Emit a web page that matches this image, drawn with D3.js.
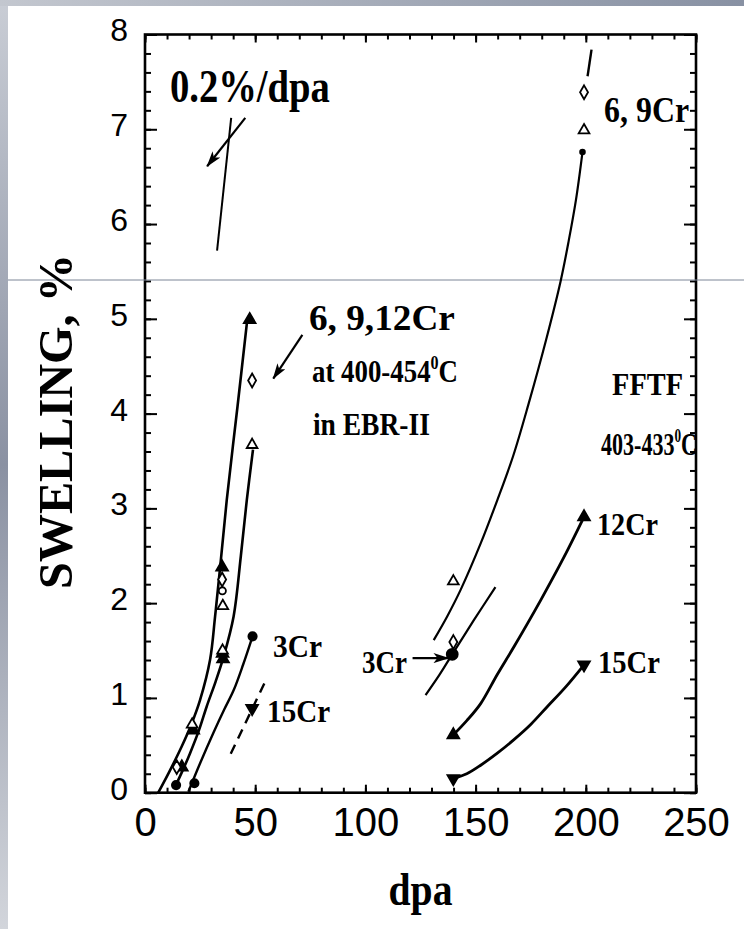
<!DOCTYPE html>
<html>
<head>
<meta charset="utf-8">
<script src="https://cdn.jsdelivr.net/npm/d3@7"></script>
<style>
  body { margin: 0; background: #fff; }
  svg { display: block; }
  .xlab text { font-family: "Liberation Sans Narrow", "Arial Narrow", "Liberation Sans", sans-serif; font-size: 40px; fill: #000; }
  .ylab text { font-family: "Liberation Sans", Arial, sans-serif; font-size: 32px; fill: #000; }
  .note { font-family: "Liberation Serif", "Times New Roman", serif; font-weight: bold; fill: #000; }
</style>
</head>
<body>
<svg id="chart" width="744" height="929"></svg>
<script>
// ---- data: dpa vs swelling % ----
const xTickValues = [0, 50, 100, 150, 200, 250];
const yTickValues = [0, 1, 2, 3, 4, 5, 6, 7, 8];

const slopeGuide = [[32.7, 5.72], [39.1, 7.12]];

// EBR-II, 400-454 C
const ebrUpper = [[6, 0], [11, 0.22], [16.7, 0.49], [21, 0.72], [25, 0.98], [29.5, 1.4], [31.8, 1.86], [34.1, 2.38], [37.1, 3.09], [42, 4.08], [46.2, 4.95]];
const ebrMiddle = [[13.6, 0.06], [17, 0.23], [20.5, 0.42], [24.5, 0.66], [28, 0.91], [32, 1.17], [35.6, 1.43], [40.2, 1.86], [43.5, 2.5], [46.2, 3.09], [49, 3.62]];
const ebr3Cr = [[19.7, 0.01], [25, 0.31], [31, 0.63], [36, 0.88], [40.2, 1.08], [44.5, 1.35], [48.8, 1.65]];
const ebr15Cr = [[38.9, 0.41], [55.3, 1.21]];

const ebrFilledTri = [[47.5, 4.99], [35, 2.38], [35.2, 1.47], [35.4, 1.41], [21.9, 0.66], [16.7, 0.27]];
const ebrOpenTri = [[48.6, 3.67], [35.3, 1.97], [35.2, 1.5], [21.4, 0.72]];
const ebrDiamond = [[48.6, 4.35], [35, 2.25], [14.4, 0.27]];
const ebrOpenCircle = [[35.1, 2.13]];
const ebrDot = [[48.8, 1.65], [14.1, 0.08], [22.4, 0.1]];
const ebrDownTri = [[48.6, 0.89]];

// FFTF, 403-433 C
const fftf69Cr = [[131, 1.61], [137.1, 1.86], [143.2, 2.14], [152.3, 2.63], [159.9, 3.09], [167, 3.55], [174, 4.1], [182, 4.78], [188.6, 5.4], [192.3, 5.83], [195.5, 6.25], [198.5, 6.76]];
const fftf69CrTop = [[200.8, 7.56], [202.6, 7.84]];
const fftf3Cr = [[127.3, 1.03], [133.5, 1.24], [139.4, 1.46], [149.2, 1.82], [159, 2.17]];
const fftf12Cr = [[139.9, 0.61], [146, 0.76], [152.3, 0.94], [159.9, 1.25], [167.4, 1.54], [179.5, 2.03], [190.2, 2.49], [199.2, 2.91]];
const fftf15Cr = [[139.9, 0.15], [146, 0.2], [152.3, 0.29], [160, 0.42], [167.4, 0.56], [175, 0.72], [182.6, 0.91], [191, 1.12], [199.2, 1.35]];

const fftfOpenTri = [[199.2, 6.99], [139.9, 2.23]];
const fftfDiamond = [[199.2, 7.39], [139.9, 1.59]];
const fftfDot = [[139.4, 1.46]];
const fftfFilledTri = [[199.2, 2.91], [139.9, 0.61]];
const fftfDownTri = [[199.2, 1.35], [139.9, 0.15]];
const fftfEndDot = [[198.5, 6.76]];

// annotations (anchored in data units)
const notes = [
  {text: "0.2%/dpa", at: [11.3, 7.29], size: 46, width: 160},
  {text: "6, 9Cr", at: [208.3, 7.08], size: 36, width: 85},
  {text: "6,  9,12Cr", at: [74.4, 4.88], size: 36, width: 146},
  {text: "at 400-454", sup: "0", tail: "C", at: [75.8, 4.33], size: 32, width: 146},
  {text: "in EBR-II", at: [76.2, 3.77], size: 32, width: 117},
  {text: "FFTF", at: [211.9, 4.2], size: 32, width: 71},
  {text: "403-433", sup: "0", tail: "C", at: [206.9, 3.56], size: 32, width: 96},
  {text: "12Cr", at: [205.1, 2.72], size: 32, width: 61},
  {text: "15Cr", at: [205.5, 1.26], size: 32, width: 62},
  {text: "3Cr", at: [98.5, 1.26], size: 32, width: 45},
  {text: "3Cr", at: [58.1, 1.43], size: 32, width: 49},
  {text: "15Cr", at: [55.4, 0.75], size: 32, width: 63}
];
const noteArrows = [
  {from: [45.5, 7.12], to: [28.2, 6.61]},
  {from: [71.4, 4.83], to: [58.2, 4.37]},
  {from: [121.4, 1.42], to: [137.7, 1.42]}
];

// ---- drawing ----
const svg = d3.select("#chart");

// slide frame bits
const defs = svg.append("defs");
const gl = defs.append("linearGradient").attr("id", "leftStrip").attr("x1", 0).attr("y1", 0).attr("x2", 0).attr("y2", 1);
gl.append("stop").attr("offset", "0%").attr("stop-color", "#c9cdd5");
gl.append("stop").attr("offset", "50%").attr("stop-color", "#8a91a2");
gl.append("stop").attr("offset", "100%").attr("stop-color", "#d2d5db");
const gt = defs.append("linearGradient").attr("id", "topStrip").attr("x1", 0).attr("y1", 0).attr("x2", 1).attr("y2", 0);
gt.append("stop").attr("offset", "0%").attr("stop-color", "#c3c7cf");
gt.append("stop").attr("offset", "100%").attr("stop-color", "#8891a3");

defs.append("marker")
    .attr("id", "head")
    .attr("viewBox", "0 0 16 10")
    .attr("refX", 15)
    .attr("refY", 5)
    .attr("markerWidth", 16)
    .attr("markerHeight", 10)
    .attr("markerUnits", "userSpaceOnUse")
    .attr("orient", "auto")
  .append("path")
    .attr("d", "M0,0 L16,5 L0,10 L4,5 Z")
    .attr("fill", "#000");

svg.append("rect").attr("x", 0).attr("y", 0).attr("width", 744).attr("height", 929).attr("fill", "#fff");
svg.append("rect").attr("x", 0).attr("y", 0).attr("width", 8).attr("height", 929).attr("fill", "url(#leftStrip)");
svg.append("rect").attr("x", 0).attr("y", 0).attr("width", 744).attr("height", 6).attr("fill", "url(#topStrip)");

const x = d3.scaleLinear().domain([0, 250]).range([145, 696]);
const y = d3.scaleLinear().domain([0, 8]).range([792.7, 34.5]);

const minorX = d3.range(0, 26).map(i => i * 10);
const minorY = d3.range(0, 41).map(i => i / 5);

function axisGroup(axis, tx, ty, cls) {
    const g = svg.append("g")
        .attr("class", cls || "")
        .attr("transform", `translate(${tx},${ty})`)
        .call(axis);
    g.select(".domain").remove();
    g.selectAll(".tick line").attr("stroke", "#000").attr("stroke-width", 2);
    return g;
}

// minor ticks
axisGroup(d3.axisBottom(x).tickValues(minorX).tickSize(-5).tickFormat(""), 0, y(0));
axisGroup(d3.axisTop(x).tickValues(minorX).tickSize(-5).tickFormat(""), 0, y(8));
axisGroup(d3.axisLeft(y).tickValues(minorY).tickSize(-6).tickFormat(""), x(0), 0);
axisGroup(d3.axisRight(y).tickValues(minorY).tickSize(-6).tickFormat(""), x(250), 0);

// major ticks with labels
const xAx = axisGroup(d3.axisBottom(x).tickValues(xTickValues).tickSize(-8).tickPadding(15), 0, y(0), "xlab");
xAx.selectAll("text").attr("font-size", null).attr("font-family", null);
axisGroup(d3.axisTop(x).tickValues(xTickValues).tickSize(-8).tickFormat(""), 0, y(8));
const yAx = axisGroup(d3.axisLeft(y).tickValues(yTickValues).tickSize(-12).tickPadding(17), x(0), 0, "ylab");
yAx.selectAll("text").attr("font-size", null).attr("font-family", null).attr("dy", "0.2em");
axisGroup(d3.axisRight(y).tickValues(yTickValues).tickSize(-12).tickFormat(""), x(250), 0);

// frame
svg.append("rect")
    .attr("x", x(0)).attr("y", y(8))
    .attr("width", x(250) - x(0)).attr("height", y(0) - y(8))
    .attr("fill", "none").attr("stroke", "#000").attr("stroke-width", 2.6);

// slide rule line
svg.append("line")
    .attr("x1", 8).attr("x2", 744).attr("y1", 280).attr("y2", 280)
    .attr("stroke", "#7d8697").attr("stroke-width", 1);

// curves
const line = d3.line()
    .x(d => x(d[0]))
    .y(d => y(d[1]))
    .curve(d3.curveCatmullRom.alpha(0.5));

const curves = [
    {data: slopeGuide, w: 2},
    {data: ebrUpper, w: 2.6},
    {data: ebrMiddle, w: 2.6},
    {data: ebr3Cr, w: 2.4},
    {data: ebr15Cr, w: 2.4, dash: "10,7"},
    {data: fftf69Cr, w: 2.2},
    {data: fftf69CrTop, w: 2.4},
    {data: fftf3Cr, w: 2.2},
    {data: fftf12Cr, w: 2.8},
    {data: fftf15Cr, w: 2.8}
];

svg.append("g").selectAll("path")
    .data(curves)
    .join("path")
        .attr("d", d => line(d.data))
        .attr("fill", "none")
        .attr("stroke", "#000")
        .attr("stroke-width", d => d.w)
        .attr("stroke-dasharray", d => d.dash || null);

// markers
const markerSets = [
    {data: ebrFilledTri.concat(fftfFilledTri), type: d3.symbolTriangle, size: 60, fill: "#000", rot: 0},
    {data: ebrDownTri.concat(fftfDownTri), type: d3.symbolTriangle, size: 60, fill: "#000", rot: 180},
    {data: ebrOpenTri.concat(fftfOpenTri), type: d3.symbolTriangle, size: 50, fill: "#fff", rot: 0},
    {data: ebrDiamond.concat(fftfDiamond), type: d3.symbolDiamond, size: 55, fill: "#fff", rot: 0},
    {data: ebrOpenCircle, type: d3.symbolCircle, size: 40, fill: "#fff", rot: 0},
    {data: ebrDot, type: d3.symbolCircle, size: 55, fill: "#000", rot: 0},
    {data: fftfDot, type: d3.symbolCircle, size: 95, fill: "#000", rot: 0},
    {data: fftfEndDot, type: d3.symbolCircle, size: 18, fill: "#000", rot: 0}
];

markerSets.forEach(set => {
    svg.append("g").selectAll("path")
        .data(set.data)
        .join("path")
            .attr("d", d3.symbol().type(set.type).size(set.size))
            .attr("transform", d => `translate(${x(d[0])},${y(d[1])}) rotate(${set.rot})`)
            .attr("fill", set.fill)
            .attr("stroke", "#000")
            .attr("stroke-width", 1.8);
});

// arrows
svg.append("g").selectAll("line")
    .data(noteArrows)
    .join("line")
        .attr("x1", d => x(d.from[0])).attr("y1", d => y(d.from[1]))
        .attr("x2", d => x(d.to[0])).attr("y2", d => y(d.to[1]))
        .attr("stroke", "#000")
        .attr("stroke-width", 2.2)
        .attr("marker-end", "url(#head)");

// notes: drawn at natural size, then squeezed to the width seen in the figure
notes.forEach(n => {
    const g = svg.append("g").attr("transform", `translate(${x(n.at[0])},${y(n.at[1])})`);
    const inner = g.append("g");
    const t = inner.append("text").attr("class", "note").attr("font-size", n.size);
    t.append("tspan").text(n.text);
    if (n.sup) {
        t.append("tspan").attr("font-size", n.size * 0.6).attr("dy", -n.size * 0.42).text(n.sup);
        t.append("tspan").attr("dy", n.size * 0.42).text(n.tail);
    }
    const w = t.node().getBBox().width;
    inner.attr("transform", `scale(${n.width / w},1)`);
});

// axis titles
function squeezed(txt, cx, cy, size, width, rotate) {
    const g = svg.append("g").attr("transform", `translate(${cx},${cy}) rotate(${rotate})`);
    const inner = g.append("g");
    const t = inner.append("text").attr("class", "note").attr("font-size", size)
        .attr("text-anchor", "middle").text(txt);
    const w = t.node().getBBox().width;
    inner.attr("transform", `scale(${width / w},1)`);
}
squeezed("dpa", (x(0) + x(250)) / 2, 905, 46, 64, 0);
squeezed("SWELLING, %", 72, (y(0) + y(8)) / 2 + 8, 48, 335, -90);
</script>
</body>
</html>
